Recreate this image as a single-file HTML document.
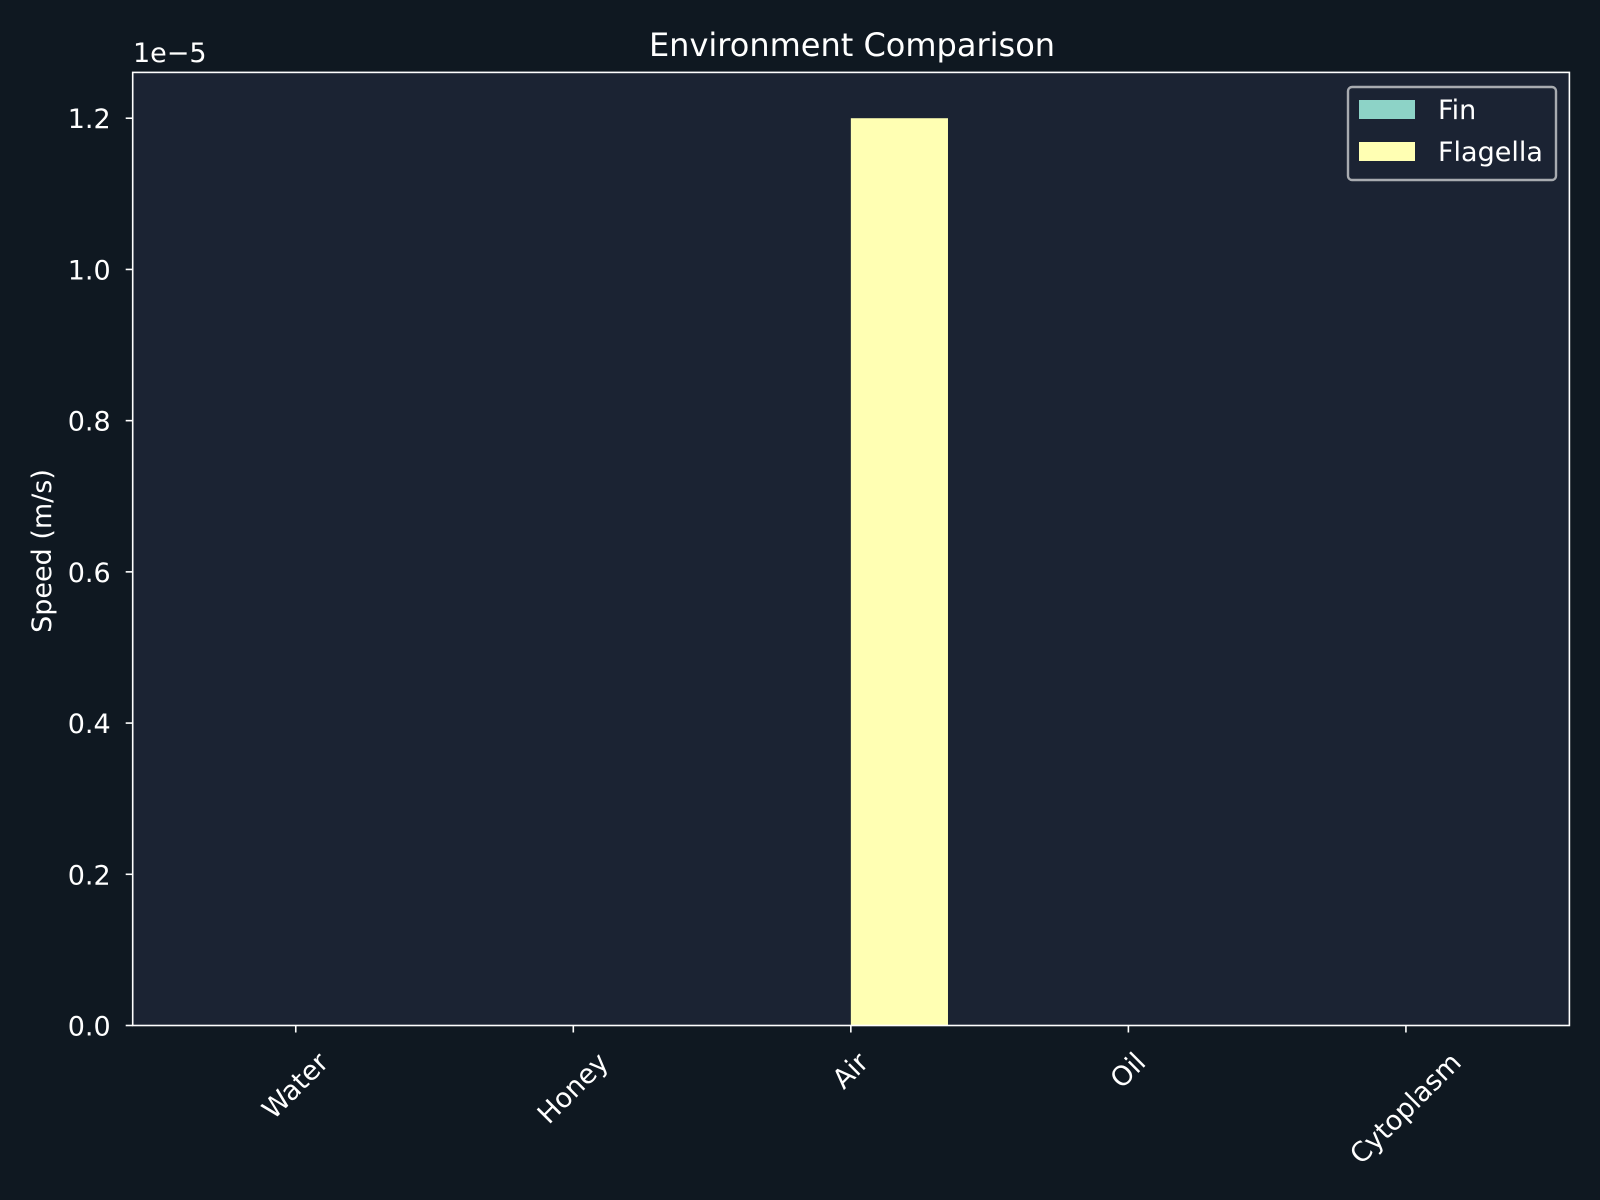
<!DOCTYPE html>
<html><head><meta charset="utf-8"><style>
html,body{margin:0;padding:0;background:#0f1821;}
svg{display:block;font-family:"DejaVu Sans","Liberation Sans",sans-serif;}
</style></head><body>
<svg id="chart" width="1600" height="1200" viewBox="0 0 1600 1200">
<rect x="0" y="0" width="1600" height="1200" fill="#0f1821"/>
<rect x="132.7" y="72.4" width="1436.7" height="953.1" fill="#1b2333"/>
<g id="bars"></g>
<g id="axes"></g>
<text x="852" y="56" fill="#ffffff" font-size="32" text-anchor="middle">Environment Comparison</text>
<text x="51" y="551" fill="#ffffff" font-size="27" text-anchor="middle" transform="rotate(-90 51 551)">Speed (m/s)</text>
<text x="133" y="62" fill="#ffffff" font-size="27">1e−5</text>
<g>
<rect x="1348" y="87" width="208" height="93" rx="4" fill="#1b2333" stroke="#a8abb0" stroke-width="2.4"/>
<rect x="1359" y="100" width="56" height="19" fill="#8dd3c7"/>
<text x="1438" y="119" fill="#ffffff" font-size="27">Fin</text>
<rect x="1359" y="142" width="56" height="19" fill="#ffffb3"/>
<text x="1438" y="161" fill="#ffffff" font-size="27">Flagella</text>
</g>
</svg>
<script>
const categories = ["Water","Honey","Air","Oil","Cytoplasm"];
const finValues = [0,0,0,0,0];
const flagellaValues = [0,0,1.2e-5,0,0];
const yTicks = [0,0.2e-5,0.4e-5,0.6e-5,0.8e-5,1.0e-5,1.2e-5];
const yTickLabels = ["0.0","0.2","0.4","0.6","0.8","1.0","1.2"];

const L=132.7,R=1569.4,T=72.4,B=1025.5;
const xMin=-0.5875,xMax=4.589,yMax=1.2606e-5;
const xs=v=>L+(v-xMin)/(xMax-xMin)*(R-L);
const ys=v=>B-v/yMax*(B-T);
const NS="http://www.w3.org/2000/svg";
const bars=document.getElementById('bars'),axes=document.getElementById('axes');
function mk(tag,attrs,parent){const e=document.createElementNS(NS,tag);for(const k in attrs)e.setAttribute(k,attrs[k]);parent.appendChild(e);return e;}
const bw=0.35;
categories.forEach((c,i)=>{
  const a=mk('rect',{x:xs(i-bw),y:ys(finValues[i]),width:xs(bw)-xs(0),height:B-ys(finValues[i]),fill:'#8dd3c7'},bars);
  
  
  const b=mk('rect',{x:xs(i),y:ys(flagellaValues[i]),width:xs(bw)-xs(0),height:B-ys(flagellaValues[i]),fill:'#ffffb3'},bars);
  
  
});
const frame=mk('rect',{x:L,y:T,width:R-L,height:B-T,fill:'none',stroke:'#ffffff','stroke-width':1.6},axes);


yTicks.forEach((v,i)=>{
  const y=ys(v);
  const t=mk('line',{x1:L-7,x2:L,y1:y,y2:y,stroke:'#ffffff','stroke-width':1.6},axes);
  
  
  const tx=mk('text',{x:L-22,y:y+10,fill:'#ffffff','font-size':27,'text-anchor':'end'},axes);
  tx.textContent=yTickLabels[i];
  
  
});
categories.forEach((c,i)=>{
  const x=xs(i);
  const t=mk('line',{x1:x,x2:x,y1:B,y2:B+7,stroke:'#ffffff','stroke-width':1.6},axes);
  
  
  const tx=mk('text',{x:0,y:0,fill:'#ffffff','font-size':27,'text-anchor':'middle','dominant-baseline':'central'},axes);
  tx.textContent=c;
  
  
  const w=tx.getComputedTextLength();
  const half=(w+27)*0.7071/2;
  const cy=B+23+half;
  tx.setAttribute('transform',`translate(${x} ${cy}) rotate(-45)`);
});
</script>
</body></html>
